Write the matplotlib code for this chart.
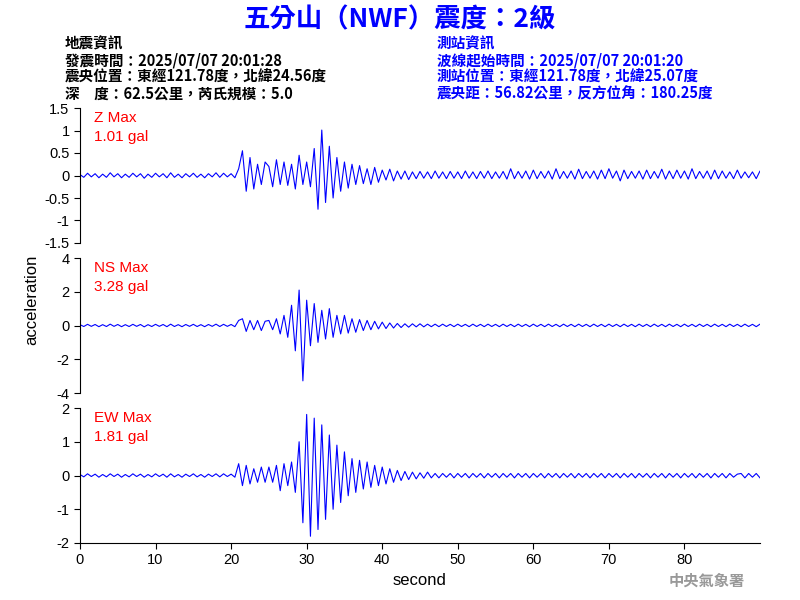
import numpy as np
import matplotlib
matplotlib.use("Agg")
import matplotlib.pyplot as plt

plt.rcParams['font.family'] = ['Noto Sans CJK TC', 'DejaVu Sans']

dt = 0.5
z_vals = [0.02,-0.04,0.05,-0.03,0.04,-0.05,0.03,-0.04,0.06,-0.03,0.04,-0.05,0.03,-0.04,0.05,-0.03,0.04,-0.06,0.03,-0.04,
          0.05,-0.03,0.04,-0.05,0.06,-0.04,0.03,-0.05,0.04,-0.03,0.05,-0.04,0.03,-0.05,0.04,-0.03,0.06,-0.04,0.05,-0.03,
          0.04,-0.05,0.15,0.55,-0.35,0.4,-0.3,0.25,-0.2,0.3,0.2,-0.25,0.35,-0.2,0.3,-0.22,0.25,
          -0.3,0.45,-0.2,0.3,-0.25,0.6,-0.75,1.01,-0.6,0.65,-0.5,0.4,-0.35,0.3,-0.28,0.25,-0.2,0.22,-0.18,0.15,
          -0.2,0.18,-0.15,0.12,-0.1,0.14,-0.12,0.1,-0.08,0.1,-0.09,0.08,-0.07,0.09,-0.06,0.08,-0.07,0.1,-0.06,0.08,
          -0.07,0.09,-0.06,0.08,-0.07,0.1,-0.06,0.08,-0.07,0.09,-0.06,0.1,-0.07,0.08,-0.06,0.09,-0.08,0.15,-0.07,0.09,
          -0.06,0.1,-0.08,0.12,-0.07,0.09,-0.06,0.1,-0.08,0.15,-0.07,0.09,-0.06,0.1,-0.08,0.14,-0.07,0.09,-0.06,0.1,
          -0.08,0.12,-0.07,0.15,-0.06,0.1,-0.12,0.12,-0.07,0.09,-0.06,0.1,-0.08,0.12,-0.07,0.09,-0.06,0.14,-0.08,0.1,
          -0.07,0.12,-0.06,0.1,-0.08,0.15,-0.07,0.09,-0.06,0.1,-0.08,0.12,-0.07,0.1,-0.06,0.08,-0.07,0.12,-0.06,0.08,-0.05,
          0.08,-0.07,0.1,-0.06]
ns_vals = [0.05,-0.06,0.07,-0.05,0.06,-0.07,0.05,-0.06,0.08,-0.05,0.06,-0.07,0.05,-0.06,0.07,-0.05,0.06,-0.08,0.05,-0.06,
           0.07,-0.05,0.06,-0.07,0.08,-0.06,0.05,-0.07,0.06,-0.05,0.07,-0.06,0.05,-0.07,0.06,-0.05,0.08,-0.06,0.07,-0.05,
           0.06,-0.07,0.3,0.4,-0.35,0.3,-0.25,0.3,-0.3,0.25,0.3,-0.25,0.4,
           -0.5,0.6,-0.7,1.2,-1.5,2.1,-3.28,1.5,-1.2,1.3,-1.0,0.9,-0.8,1.0,-0.7,0.6,-0.5,0.6,-0.45,0.4,
           -0.4,0.35,-0.3,0.3,-0.25,0.25,-0.2,0.2,-0.18,0.15,-0.15,0.12,-0.12,0.1,-0.1,0.1,-0.08,0.1,-0.08,0.08,
           -0.07,0.08,-0.07,0.08,-0.06,0.07,-0.07,0.08,-0.06,0.07,-0.07,0.08,-0.06,0.07,-0.07,0.08,-0.06,0.07,-0.07,0.08,
           -0.06,0.07,-0.07,0.08,-0.06,0.07,-0.07,0.08,-0.06,0.07,-0.07,0.08,-0.06,0.07,-0.07,0.08,-0.06,0.07,-0.07,0.08,
           -0.06,0.07,-0.07,0.08,-0.06,0.07,-0.07,0.08,-0.06,0.07,-0.07,0.08,-0.06,0.07,-0.07,0.08,-0.06,0.07,-0.07,0.08,
           -0.06,0.07,-0.07,0.08,-0.06,0.07,-0.07,0.08,-0.06,0.07,-0.07,0.08,-0.06,0.07,-0.07,0.08,-0.06,0.07,-0.07,0.08,-0.06,
           0.07,-0.07,0.08,-0.06,0.07,-0.07,0.08,-0.06]
ew_vals = [0.03,-0.04,0.05,-0.03,0.04,-0.05,0.03,-0.04,0.05,-0.03,0.04,-0.05,0.03,-0.04,0.05,-0.03,0.04,-0.05,0.03,-0.04,
           0.05,-0.03,0.04,-0.05,0.05,-0.04,0.03,-0.05,0.04,-0.03,0.05,-0.04,0.03,-0.05,0.04,-0.03,0.05,-0.04,0.05,-0.03,
           0.04,-0.05,0.35,-0.3,0.3,-0.25,0.2,-0.2,0.25,-0.2,0.25,-0.2,0.3,-0.45,
           0.35,-0.3,0.4,-0.5,1.0,-1.4,1.81,-1.8,1.7,-1.6,1.5,-1.3,1.2,-1.0,0.9,-0.8,0.7,-0.6,0.5,-0.5,
           0.45,-0.4,0.4,-0.35,0.3,-0.3,0.25,-0.25,0.2,-0.2,0.15,-0.15,0.12,-0.12,0.1,-0.1,0.08,-0.08,0.1,-0.07,
           0.06,-0.07,0.06,-0.05,0.06,-0.07,0.06,-0.05,0.06,-0.07,0.06,-0.05,0.06,-0.07,0.06,-0.05,0.06,-0.07,0.06,-0.05,
           0.06,-0.07,0.06,-0.05,0.06,-0.07,0.06,-0.05,0.06,-0.07,0.06,-0.05,0.06,-0.07,0.06,-0.05,0.06,-0.07,0.06,-0.05,
           0.06,-0.07,0.06,-0.05,0.06,-0.07,0.06,-0.05,0.06,-0.07,0.06,-0.05,0.06,-0.07,0.06,-0.05,0.06,-0.07,0.06,-0.05,
           0.06,-0.07,0.06,-0.05,0.06,-0.07,0.06,-0.05,0.06,-0.07,0.06,-0.05,0.06,-0.07,0.06,-0.05,0.06,-0.07,0.06,-0.05,0.04,
           0.06,-0.07,0.06,-0.05,0.06,-0.07]

labels = ["Z Max\n1.01 gal", "NS Max\n3.28 gal", "EW Max\n1.81 gal"]
ylims = [1.5, 4, 2]
yticks = [[-1.5,-1,-0.5,0,0.5,1,1.5], [-4,-2,0,2,4], [-2,-1,0,1,2]]
ytl = [["-1.5","-1","-0.5","0","0.5","1","1.5"], ["-4","-2","0","2","4"], ["-2","-1","0","1","2"]]

fig = plt.figure(figsize=(8, 6), dpi=100)
W, H = 800, 600
tops = [108, 258, 408]
for i, vals in enumerate([z_vals, ns_vals, ew_vals]):
    ax = fig.add_axes([80/W, 1-(tops[i]+135)/H, 680/W, 135/H])
    t = np.arange(len(vals)) * dt
    ax.plot(t, vals, color='#0000ff', lw=0.8)
    ax.set_xlim(0, 90)
    ax.set_ylim(-ylims[i], ylims[i])
    ax.set_yticks(yticks[i])
    ax.set_yticklabels(ytl[i], fontsize=10.5, family='Liberation Sans')
    for s in ['top', 'right']:
        ax.spines[s].set_visible(False)
    ax.text(0.02, 0.98, labels[i], transform=ax.transAxes, color='red', fontsize=11,
            va='top', family='Liberation Sans', linespacing=1.5)
    if i < 2:
        ax.spines['bottom'].set_visible(False)
        ax.set_xticks([])
    else:
        ax.set_xticks(range(0, 90, 10))
        ax.set_xticklabels([str(v) for v in range(0, 90, 10)], fontsize=10.5, family='Liberation Sans')
        ax.set_xlabel("second", fontsize=12, family='Liberation Sans')
    ax.tick_params(length=4)

fig.text(0.04, 0.5, "acceleration", rotation=90, va='center', ha='center', fontsize=12, family='Liberation Sans')
fig.text(0.5, 1-20/H, "五分山（NWF）震度：2級", color='#0000ff', ha='center', va='center',
         fontsize=19, fontweight='bold')
left = ["地震資訊", "發震時間：2025/07/07 20:01:28", "震央位置：東經121.78度，北緯24.56度", "深　度：62.5公里，芮氏規模：5.0"]
right = ["測站資訊", "波線起始時間：2025/07/07 20:01:20", "測站位置：東經121.78度，北緯25.07度", "震央距：56.82公里，反方位角：180.25度"]
for k, (a, b) in enumerate(zip(left, right)):
    y = 1 - (43 + 17*k)/H
    fig.text(65/W, y, a, fontsize=10.5, va='center', color='black', fontweight='bold')
    fig.text(437/W, y, b, fontsize=10.5, va='center', color='#0000ff', fontweight='bold')
fig.text(745/W, 1-581/H, "中央氣象署", ha='right', va='center', fontsize=11, color='#999999', fontweight='bold')
fig.savefig("out.png", dpi=100)
